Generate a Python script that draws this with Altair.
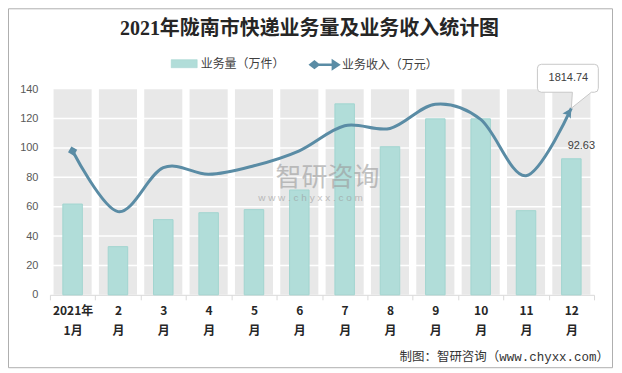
import altair as alt
import pandas as pd

months = ["2021年1月", "2月", "3月", "4月", "5月", "6月", "7月", "8月", "9月", "10月", "11月", "12月"]
volume = [61.8, 32.8, 51.2, 55.9, 58.0, 71.4, 130.0, 100.8, 119.8, 119.8, 57.3, 92.63]
revenue = [1398, 809, 1236, 1172, 1255, 1401, 1644, 1618, 1854, 1706, 1158, 1814.74]
y_ticks = [0, 20, 40, 60, 80, 100, 120, 140]
grid_vals = [20, 40, 60, 80, 100, 120]
series_names = ["业务量（万件）", "业务收入（万元）"]
title_text = ["2021年陇南市快递业务量及业务收入统计图"]
source_text = ["制图：智研咨询（www.chyxx.com）"]
watermark_main = ["智研咨询"]
watermark_url = ["w w w . c h y x x . c o m"]

BAR = "#B1DDD9"
BAR_STROKE = "#A2D5D0"
LINE = "#5A8CA5"
BG = "#E8E8E8"
W, H = 545, 206
CJK = "Noto Sans CJK SC"

df_bar = pd.DataFrame({"month": months, "volume": volume, "s": series_names[0]})
df_line = pd.DataFrame({"month": months, "revenue": revenue, "s": series_names[1]})

bar_shape = "M-0.93,-0.29H0.93V0.29H-0.93Z"
line_shape = ("M-0.55,0H0.55M-1,0L-0.72,-0.22L-0.44,0L-0.72,0.22Z"
              "M1,0L0.6,-0.26L0.6,0.26Z")

legend_common = dict(orient="none", direction="horizontal", title=None, symbolSize=784,
                     labelFont=CJK, labelFontSize=12, labelColor="#404040",
                     labelOffset=2, padding=0, symbolOpacity=1)
bar_legend = alt.Legend(legendX=120, legendY=-40, symbolType=bar_shape,
                        symbolFillColor=BAR, symbolStrokeColor=BAR_STROKE,
                        symbolStrokeWidth=0.5, **legend_common)
line_legend = alt.Legend(legendX=259.5, legendY=-40, symbolType=line_shape,
                         symbolFillColor=LINE, symbolStrokeColor=LINE,
                         symbolStrokeWidth=2.5, **legend_common)

label_expr = ("!isValid(datum.value) || !datum.label ? '' : "
              "(datum.value == '" + months[0] + "' ? ['2021年', '1月'] : "
              "[replace(datum.label, '月', ''), '月'])")

x_enc = alt.X(
    "month:N", sort=months,
    scale=alt.Scale(paddingInner=0, paddingOuter=0),
    axis=alt.Axis(
        title=None, labelAngle=0, labelExpr=label_expr,
        labelFont=CJK, labelFontWeight="bold", labelFontSize=12, labelColor="#262626",
        labelLineHeight=20, labelBaseline="top", labelPadding=6,
        tickSize=5, tickColor="#D9D9D9", domainColor="#D9D9D9", tickBand="extent",
        grid=False,
    ),
)
y_scale = alt.Scale(domain=[0, 140], nice=False)
y_axis = alt.Axis(values=y_ticks, title=None, domain=False, ticks=False, labelPadding=12,
                  labelFont="Liberation Sans", labelFontSize=11, labelColor="#595959", grid=False)

bg = alt.Chart(df_bar).mark_bar(color=BG, width=alt.RelativeBandSize(0.84)).encode(
    x=x_enc, y=alt.YDatum(140, scale=y_scale, axis=y_axis)
)
grid = alt.Chart(pd.DataFrame({"g": grid_vals})).mark_rule(color="white", strokeWidth=1.5).encode(
    y=alt.Y("g:Q", scale=y_scale, axis=y_axis)
)
bars = alt.Chart(df_bar).mark_bar(stroke=BAR_STROKE, strokeWidth=1, width=alt.RelativeBandSize(0.43)).encode(
    x=x_enc, y=alt.Y("volume:Q", scale=y_scale, axis=y_axis),
    color=alt.Color("s:N", scale=alt.Scale(domain=[series_names[0]], range=[BAR]), legend=bar_legend),
)
bar_label = alt.Chart(df_bar).transform_filter(
    alt.datum.month == months[-1]
).mark_text(dx=10, dy=-13, font="Liberation Sans", fontSize=11, color="#404040").encode(
    x=x_enc, y=alt.Y("volume:Q", scale=y_scale, axis=y_axis),
    text=alt.Text("volume:Q", format=".2f"),
)
left = alt.layer(bg, grid, bars, bar_label)

ry = alt.Y("revenue:Q", scale=alt.Scale(domain=[0, 2000], nice=False), axis=None)
line = alt.Chart(df_line).mark_line(strokeWidth=3, interpolate="cardinal").encode(
    x=x_enc, y=ry,
    stroke=alt.Stroke("s:N", scale=alt.Scale(domain=[series_names[1]], range=[LINE]), legend=line_legend),
)
start_mark = alt.Chart(df_line).transform_filter(alt.datum.month == months[0]).mark_point(
    shape="square", angle=30, size=45, filled=True, opacity=1, color=LINE
).encode(x=x_enc, y=ry)

callout_path = ("M-30,-44H23Q27,-44 27,-40V-20Q27,-16 23,-16H20L0,0L1,-16H-30"
                "Q-34,-16 -34,-20V-40Q-34,-44 -30,-44Z")
arrow_path = "M0,0L-0.6,10.5L-3.8,6.6L-8.9,5.4Z"
last = alt.Chart(df_line).transform_filter(alt.datum.month == months[-1])
callout = last.mark_point(shape=callout_path, size=4, filled=True, fill="white",
                          stroke="#C8C8C8", strokeWidth=1, opacity=1).encode(x=x_enc, y=ry)
arrow = last.mark_point(shape=arrow_path, size=4, filled=True, color=LINE, opacity=1).encode(x=x_enc, y=ry)
callout_text = last.mark_text(dx=-3, dy=-30, font="Liberation Sans", fontSize=11, color="#404040").encode(
    x=x_enc, y=ry, text=alt.Text("revenue:Q", format=".2f")
)
right = alt.layer(line, start_mark, arrow, callout, callout_text)

frame = alt.Chart(pd.DataFrame({"a": [0]})).mark_rect(
    fillOpacity=0, stroke="#AFAFAF", strokeWidth=1
).encode(x=alt.value(-41.5), x2=alt.value(563.5), y=alt.value(-80.5), y2=alt.value(279))

title = alt.Chart(pd.DataFrame({"t": title_text})).mark_text(
    font="'Liberation Serif', 'Noto Sans CJK SC'", fontSize=20, fontWeight="bold", color="#262626",
    align="center", baseline="middle"
).encode(x=alt.value(260), y=alt.value(-60.5), text="t:N")

source = alt.Chart(pd.DataFrame({"t": source_text})).mark_text(
    font="'Liberation Mono', 'Noto Sans CJK SC'", fontSize=12.5, color="#333333",
    align="right", baseline="middle"
).encode(x=alt.value(560), y=alt.value(268), text="t:N")

wm1 = alt.Chart(pd.DataFrame({"t": watermark_main})).mark_text(
    font=CJK, fontSize=26, color="#9A9A9A", opacity=0.6, align="center", baseline="middle"
).encode(x=alt.value(278), y=alt.value(89), text="t:N")
wm2 = alt.Chart(pd.DataFrame({"t": watermark_url})).mark_text(
    font="Liberation Sans", fontSize=10, color="#9A9A9A", opacity=0.6, align="center", baseline="middle"
).encode(x=alt.value(261), y=alt.value(109), text="t:N")

chart = alt.layer(left, right, wm1, wm2, frame, title, source).resolve_scale(
    y="independent"
).properties(
    width=W, height=H,
    autosize=alt.AutoSizeParams(type="none"),
    padding={"left": 42, "top": 81, "right": 20, "bottom": 74},
).configure_view(stroke=None)

chart.save("out.html", embed_options={"renderer": "svg", "actions": False})
